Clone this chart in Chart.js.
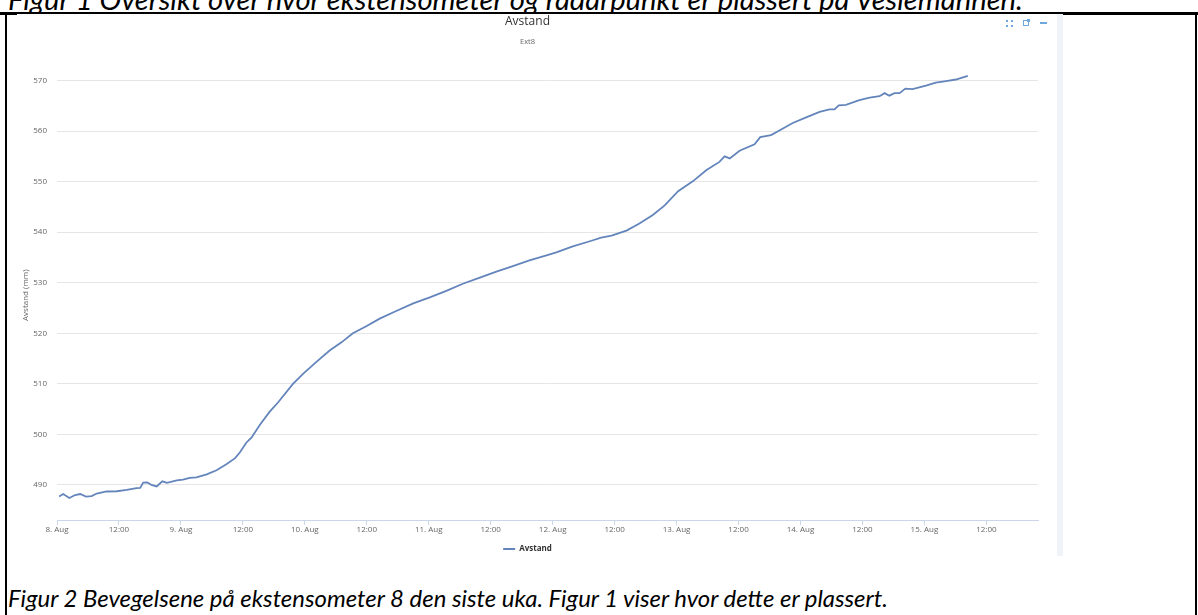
<!DOCTYPE html>
<html>
<head>
<meta charset="utf-8">
<script src="https://cdn.jsdelivr.net/npm/chart.js@4.4.0/dist/chart.umd.min.js"></script>
<style>
    body { margin: 0; width: 1198px; height: 615px; overflow: hidden; background: #fff; position: relative; }
    .cap { position: absolute; left: 8px; font-family: Lato, "Open Sans", sans-serif; font-style: italic; white-space: nowrap; color: #000; line-height: 1; }
    #cap1 { top: -16px; font-size: 24px; }
    #cap2 { top: 586px; font-size: 20px; }
    .rule { position: absolute; background: #000; }
    #box { position: absolute; left: 17px; top: 14px; width: 1040px; height: 549px; background: #fff; }
    #strip { position: absolute; left: 1057px; top: 14px; width: 6px; height: 542px; background: #f0f3f7; }
</style>
</head>
<body>
<div class="cap" id="cap1">Figur 1 Oversikt over hvor ekstensometer og radarpunkt er plassert på Veslemannen.</div>
<div class="rule" style="left:0;top:12px;width:1198px;height:3px"></div>
<div class="rule" style="left:5px;top:12px;width:2px;height:603px"></div>
<div class="rule" style="left:1195px;top:12px;width:2px;height:603px"></div>
<div id="box"><canvas id="graficoAvstand" width="1040" height="549"></canvas></div>
<div id="strip"></div>
<div class="cap" id="cap2">Figur 2 Bevegelsene på ekstensometer 8 den siste uka. Figur 1 viser hvor dette er plassert.</div>
<script>
// timer etter 8. aug 00:00
const timer = [0.4, 1.2, 2.4, 3.5, 4.5, 5.6, 6.7, 7.7, 9.6, 11.6, 13.5, 15.4, 16.1, 16.7, 17.5,
    18.3, 19.3, 20.4, 21.3, 23.2, 24.4, 25.7, 27.0, 29.0, 30.9, 32.8, 34.5, 35.4, 36.7, 37.7,
    39.3, 41.2, 42.8, 45.7, 47.7, 50.3, 52.8, 55.1, 57.3, 59.9, 62.5, 65.7, 69.0, 72.2, 75.4,
    78.6, 81.9, 85.1, 88.3, 91.5, 94.8, 96.7, 99.9, 103.2, 105.4, 107.4, 110.3, 112.8, 115.4, 117.7,
    120.3, 123.2, 125.8, 128.3, 129.3, 130.3, 132.2, 135.1, 136.2, 138.3, 140.6, 142.5, 145.1, 147.7, 149.6,
    150.6, 151.4, 152.8, 155.4, 157.4, 159.3, 160.3, 161.2, 162.2, 163.2, 164.3, 165.7, 168.3, 170.2, 172.2,
    174.1, 176.4];
const avstand = [487.7, 488.2, 487.4, 488.0, 488.2, 487.7, 487.8, 488.3, 488.7, 488.75, 489.0, 489.35, 489.4, 490.45, 490.5,
    490.0, 489.7, 490.7, 490.4, 490.9, 491.05, 491.4, 491.5, 492.1, 492.9, 494.1, 495.3, 496.4, 498.4, 499.4,
    501.9, 504.5, 506.3, 510, 512, 514.4, 516.6, 518.2, 520, 521.4, 522.9, 524.4, 525.9, 527.1, 528.4,
    529.8, 531, 532.2, 533.3, 534.4, 535.4, 536.0, 537.2, 538.2, 538.9, 539.3, 540.3, 541.7, 543.4, 545.3,
    548.1, 550.1, 552.3, 553.9, 555.0, 554.6, 556.1, 557.4, 558.8, 559.2, 560.5, 561.6, 562.7, 563.8, 564.3,
    564.3, 565.1, 565.2, 566.1, 566.6, 566.9, 567.5, 567.0, 567.5, 567.5, 568.4, 568.3, 569.0, 569.6, 569.9,
    570.2, 570.9];
const dager = ['8. Aug', '9. Aug', '10. Aug', '11. Aug', '12. Aug', '13. Aug', '14. Aug', '15. Aug'];
const halvdag = '12:00';

// tilpass bildetekstene til bredden i originalen
function fitWidth(id, target) {
    const el = document.getElementById(id);
    const size = parseFloat(getComputedStyle(el).fontSize);
    el.style.fontSize = (size * target / el.offsetWidth) + 'px';
}

window.onload = function () {
    fitWidth('cap1', 1016);
    fitWidth('cap2', 880);

    const font = '"Open Sans", "DejaVu Sans", sans-serif';
    const blaa = '#6485bb';

    const ikoner = {
        id: 'ikoner',
        afterDraw: function (chart) {
            const c = chart.ctx;
            c.save();
            c.fillStyle = '#6fa8dc';
            c.strokeStyle = '#6fa8dc';
            // fullskjerm
            [[-3, -3], [2, -3], [-3, 2], [2, 2]].forEach(function (p) {
                c.fillRect(992 + p[0], 9 + p[1], 2, 2);
            });
            // eksport
            c.lineWidth = 1;
            c.strokeRect(1006.5, 6.5, 5, 5);
            c.fillRect(1010, 5, 3, 3);
            // minimer
            c.fillRect(1023, 8, 7, 2);
            c.restore();
        }
    };

    const ctxAvstand = document.getElementById('graficoAvstand').getContext('2d');
    const graficoAvstand = new Chart(ctxAvstand, {
        type: 'line',
        data: {
            datasets: [{
                label: 'Avstand',
                data: timer.map(function (t, i) { return { x: t, y: avstand[i] }; }),
                borderColor: blaa,
                backgroundColor: blaa,
                borderWidth: 1.8,
                pointRadius: 0,
                tension: 0
            }]
        },
        options: {
            responsive: false,
            animation: false,
            layout: {
                padding: { left: 0, right: 19, top: 0, bottom: 0 }
            },
            plugins: {
                title: {
                    display: true,
                    text: 'Avstand',
                    color: '#333',
                    font: { family: font, size: 12, weight: 'normal' },
                    padding: { top: 0, bottom: 9 }
                },
                subtitle: {
                    display: true,
                    text: 'Ext8',
                    color: '#666',
                    font: { family: font, size: 7.5 },
                    padding: { top: 0, bottom: 24 }
                },
                legend: {
                    position: 'bottom',
                    labels: {
                        usePointStyle: true,
                        pointStyle: 'line',
                        pointStyleWidth: 12,
                        color: '#333',
                        padding: 4.5,
                        font: { family: font, size: 8, weight: 'bold' }
                    }
                },
                tooltip: { enabled: false }
            },
            scales: {
                x: {
                    type: 'linear',
                    min: 0,
                    max: 190,
                    afterFit: function (scale) { scale.height = 20.5; },
                    grid: { drawOnChartArea: false, tickLength: 5, color: '#ccd6eb' },
                    border: { color: '#ccd6eb' },
                    ticks: {
                        stepSize: 12,
                        includeBounds: false,
                        autoSkip: false,
                        maxRotation: 0,
                        padding: 0,
                        color: '#666',
                        font: { family: font, size: 8 },
                        callback: function (value) {
                            return value % 24 === 0 ? dager[value / 24] : halvdag;
                        }
                    }
                },
                y: {
                    min: 483.06,
                    max: 572,
                    afterFit: function (scale) { scale.width = 40; },
                    grid: { color: '#e6e6e6', drawTicks: false },
                    border: { display: false },
                    ticks: {
                        stepSize: 10,
                        includeBounds: false,
                        padding: 10,
                        color: '#666',
                        font: { family: font, size: 8 }
                    },
                    title: {
                        display: true,
                        text: 'Avstand (mm)',
                        color: '#666',
                        font: { family: font, size: 8 },
                        padding: { top: 4, bottom: 0 }
                    }
                }
            }
        },
        plugins: [ikoner]
    });
};
</script>
</body>
</html>
